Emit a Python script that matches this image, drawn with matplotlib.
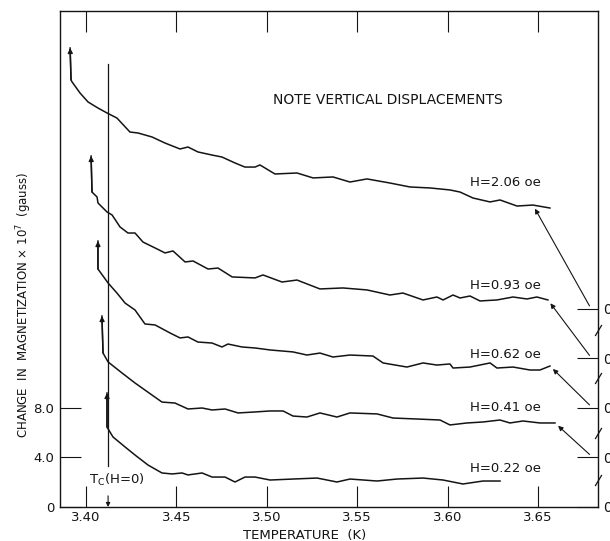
import numpy as np
import matplotlib
matplotlib.use('Agg')
import matplotlib.pyplot as plt
from matplotlib.path import Path

# ---------------- data ----------------
t_206 = [3.3912, 3.3917, 3.3923, 3.3967, 3.4011, 3.4066, 3.4116, 3.4171, 3.4243, 3.4288,
         3.4365, 3.4437, 3.4520, 3.4564, 3.4619, 3.4697, 3.4752, 3.4824, 3.4879, 3.4935,
         3.4962, 3.5045, 3.5167, 3.5256, 3.5366, 3.5460, 3.5554, 3.5681, 3.5792, 3.5903,
         3.6013, 3.6069, 3.6140, 3.6235, 3.6290, 3.6384, 3.6472, 3.6566]
m_206 = [37.09, 34.51, 34.34, 33.45, 32.73, 32.24, 31.84, 31.43, 30.30, 30.22,
         29.90, 29.41, 28.93, 29.09, 28.69, 28.44, 28.28, 27.80, 27.47, 27.47,
         27.64, 26.91, 26.99, 26.59, 26.67, 26.26, 26.51, 26.18, 25.86, 25.78,
         25.62, 25.45, 24.97, 24.65, 24.81, 24.32, 24.40, 24.16]

t_093 = [3.4028, 3.4033, 3.4061, 3.4066, 3.4116, 3.4144, 3.4188, 3.4232, 3.4271, 3.4315,
         3.4382, 3.4437, 3.4481, 3.4548, 3.4592, 3.4675, 3.4730, 3.4808, 3.4935, 3.4979,
         3.5084, 3.5167, 3.5294, 3.5421, 3.5554, 3.5681, 3.5753, 3.5864, 3.5941, 3.5975,
         3.6030, 3.6069, 3.6124, 3.6179, 3.6273, 3.6362, 3.6439, 3.6494, 3.6555]
m_093 = [28.36, 25.45, 25.05, 24.57, 23.84, 23.60, 22.63, 22.14, 22.14, 21.41,
         20.93, 20.53, 20.69, 19.80, 19.88, 19.23, 19.31, 18.59, 18.51, 18.75,
         18.18, 18.34, 17.62, 17.70, 17.54, 17.13, 17.29, 16.73, 16.97, 16.73,
         17.13, 16.89, 17.05, 16.65, 16.73, 16.97, 16.81, 16.97, 16.73]

t_062 = [3.4066, 3.4066, 3.4122, 3.4171, 3.4216, 3.4271, 3.4326, 3.4382, 3.4465, 3.4520,
         3.4564, 3.4619, 3.4697, 3.4752, 3.4785, 3.4863, 3.4935, 3.5018, 3.5145, 3.5222,
         3.5294, 3.5366, 3.5460, 3.5587, 3.5643, 3.5775, 3.5864, 3.5941, 3.6013, 3.6030,
         3.6124, 3.6235, 3.6273, 3.6362, 3.6456, 3.6511, 3.6566]
m_062 = [21.49, 19.23, 18.10, 17.29, 16.48, 15.92, 14.79, 14.71, 14.06, 13.66,
         13.74, 13.33, 13.25, 12.93, 13.17, 12.93, 12.85, 12.69, 12.53, 12.28,
         12.44, 12.12, 12.28, 12.20, 11.64, 11.31, 11.64, 11.47, 11.56, 11.23,
         11.31, 11.64, 11.23, 11.31, 11.07, 11.07, 11.39]

t_041 = [3.4088, 3.4094, 3.4122, 3.4199, 3.4271, 3.4326, 3.4420, 3.4492, 3.4564, 3.4642,
         3.4697, 3.4769, 3.4841, 3.4935, 3.5018, 3.5090, 3.5145, 3.5222, 3.5294, 3.5388,
         3.5460, 3.5610, 3.5698, 3.5831, 3.5958, 3.6013, 3.6107, 3.6196, 3.6290, 3.6345,
         3.6417, 3.6511, 3.6594]
m_041 = [15.43, 12.44, 11.72, 10.83, 10.02, 9.45, 8.48, 8.40, 7.92, 8.00,
         7.84, 7.92, 7.60, 7.68, 7.76, 7.76, 7.35, 7.27, 7.60, 7.27,
         7.60, 7.52, 7.19, 7.11, 7.03, 6.63, 6.79, 6.87, 7.03, 6.79,
         6.95, 6.79, 6.79]

t_022 = [3.4116, 3.4116, 3.4149, 3.4216, 3.4271, 3.4343, 3.4420, 3.4476, 3.4531, 3.4564,
         3.4642, 3.4697, 3.4769, 3.4824, 3.4879, 3.4935, 3.5018, 3.5145, 3.5278, 3.5388,
         3.5460, 3.5610, 3.5720, 3.5864, 3.5975, 3.6085, 3.6196, 3.6290]
m_022 = [9.21, 6.46, 5.66, 4.85, 4.20, 3.39, 2.75, 2.67, 2.75, 2.59,
         2.75, 2.42, 2.42, 2.02, 2.42, 2.42, 2.18, 2.26, 2.34, 2.02,
         2.26, 2.10, 2.26, 2.34, 2.18, 1.86, 2.10, 2.10]

field_labels = ['H=2.06 oe', 'H=0.93 oe', 'H=0.62 oe', 'H=0.41 oe', 'H=0.22 oe']
label_y = [26.26, 17.86, 12.36, 8.0, 3.15]
zero_offsets = [16, 12, 8, 4, 0]          # displaced zeros on the right axis
arrow_head_idx = [-2, -1, -1, -1, None]

x_ticks = [3.40, 3.45, 3.50, 3.55, 3.60, 3.65]
x_ticklabels = ['3.40', '3.45', '3.50', '3.55', '3.60', '3.65']
y_ticks = [0, 4, 8]
y_ticklabels = ['0', '4.0', '8.0']
tc_value = 3.4122
break_marks = [2.2, 6.0, 10.4, 14.3]

# ---------------- figure ----------------
FONT = 'DejaVu Sans'
plt.rcParams['font.family'] = [FONT]
fig = plt.figure(figsize=(6.10, 5.41), dpi=100)
ax = fig.add_axes([60/610, 34/541, 538/610, 496/541])
ax.set_xlim(3.3856, 3.6832)
ax.set_ylim(0, 40.08)

curves = [(t_206, m_206), (t_093, m_093), (t_062, m_062), (t_041, m_041), (t_022, m_022)]
ink = '#141414'
for (t, m), lab, ly, off, hi in zip(curves, field_labels, label_y, zero_offsets, arrow_head_idx):
    ax.plot(t, m, color=ink, lw=1.1, solid_joinstyle='round')
    # arrowhead at the start of each trace
    ax.annotate('', xy=(t[0], m[0]), xytext=(t[1], m[1]),
                arrowprops=dict(arrowstyle='-|>', color=ink, lw=1.0,
                                mutation_scale=7, shrinkA=0, shrinkB=0))
    ax.text(3.6124, ly, lab, ha='left', va='center', fontsize=9.5, color=ink)
    if hi is not None:
        ax.annotate('', xy=(t[hi], m[hi]), xytext=(3.6785, off + 0.25),
                    arrowprops=dict(arrowstyle='-|>', color=ink, lw=0.8,
                                    mutation_scale=7, shrinkA=0, shrinkB=3))

ax.text(3.567, 32.89, 'NOTE VERTICAL DISPLACEMENTS', ha='center', va='center',
        fontsize=10, color=ink)

# Tc line
ax.plot([tc_value, tc_value], [35.8, 3.3], color=ink, lw=0.9)
ax.annotate('', xy=(tc_value, 0.0), xytext=(tc_value, 0.9),
            arrowprops=dict(arrowstyle='-|>', color=ink, lw=0.8,
                            mutation_scale=6, shrinkA=0, shrinkB=0))
ax.text(3.4171, 2.2, r'T$_{\rm C}$(H=0)', ha='center', va='center', fontsize=9.5, color=ink)

# axes styling
for s in ax.spines.values():
    s.set_linewidth(1.0)
    s.set_color(ink)
ax.set_xticks(x_ticks)
ax.set_xticklabels(x_ticklabels)
ax.set_yticks(y_ticks)
ax.set_yticklabels(y_ticklabels)
ax.tick_params(direction='in', length=15, width=0.8, top=True, labelsize=9.5,
               colors=ink)
ax.tick_params(axis='x', pad=3)
ax.tick_params(axis='y', pad=4)

ax2 = ax.twinx()
ax2.set_ylim(ax.get_ylim())
ax2.set_yticks(zero_offsets)
ax2.set_yticklabels(['0'] * len(zero_offsets))
ax2.tick_params(direction='in', length=15, width=0.8, labelsize=10, pad=4, colors=ink)
for s in ax2.spines.values():
    s.set_visible(False)

# break marks on right axis
brk = Path([(-0.6, -1.0), (0.6, 1.0)], [Path.MOVETO, Path.LINETO])
ax.plot([1.0] * len(break_marks), break_marks, linestyle='none', marker=brk,
        markersize=8, markeredgewidth=0.9, color=ink,
        transform=ax.get_yaxis_transform(), clip_on=False)

fig.text(305/610, 1 - 535/541, 'TEMPERATURE  (K)', ha='center', va='center',
         fontsize=9.5, color=ink)
fig.text(24/610, 1 - 305/541, r'CHANGE  IN  MAGNETIZATION $\times$ 10$^7$  (gauss)',
         rotation=90, ha='center', va='center', fontsize=8.5, color=ink)

fig.savefig('out.png', dpi=100, facecolor='white')
